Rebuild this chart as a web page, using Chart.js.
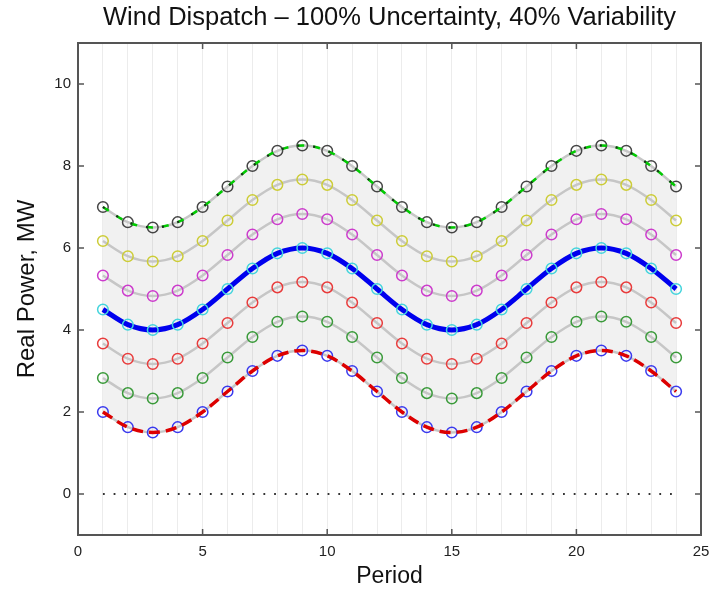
<!DOCTYPE html>
<html>
<head>
<meta charset="utf-8">
<script src="https://cdn.jsdelivr.net/npm/chart.js@4.4.1/dist/chart.umd.min.js"></script>
<style>
  html, body { margin: 0; padding: 0; background: #fff; }
  #wrap { width: 727px; height: 593px; }
</style>
</head>
<body>
<div id="wrap"><canvas id="chart" width="727" height="593"></canvas></div>
<script>
// dados
const periods = [1,2,3,4,5,6,7,8,9,10,11,12,13,14,15,16,17,18,19,20,21,22,23,24];
const upper   = [7.0,6.63,6.5,6.63,7.0,7.5,8.0,8.37,8.5,8.37,8.0,7.5,7.0,6.63,6.5,6.63,7.0,7.5,8.0,8.37,8.5,8.37,8.0,7.5];
const yellow  = [6.17,5.8,5.67,5.8,6.17,6.67,7.17,7.54,7.67,7.54,7.17,6.67,6.17,5.8,5.67,5.8,6.17,6.67,7.17,7.54,7.67,7.54,7.17,6.67];
const magenta = [5.33,4.96,4.83,4.96,5.33,5.83,6.33,6.7,6.83,6.7,6.33,5.83,5.33,4.96,4.83,4.96,5.33,5.83,6.33,6.7,6.83,6.7,6.33,5.83];
const forecast= [4.5,4.13,4.0,4.13,4.5,5.0,5.5,5.87,6.0,5.87,5.5,5.0,4.5,4.13,4.0,4.13,4.5,5.0,5.5,5.87,6.0,5.87,5.5,5.0];
const red     = [3.67,3.3,3.17,3.3,3.67,4.17,4.67,5.04,5.17,5.04,4.67,4.17,3.67,3.3,3.17,3.3,3.67,4.17,4.67,5.04,5.17,5.04,4.67,4.17];
const green   = [2.83,2.46,2.33,2.46,2.83,3.33,3.83,4.2,4.33,4.2,3.83,3.33,2.83,2.46,2.33,2.46,2.83,3.33,3.83,4.2,4.33,4.2,3.83,3.33];
const lower   = [2.0,1.63,1.5,1.63,2.0,2.5,3.0,3.37,3.5,3.37,3.0,2.5,2.0,1.63,1.5,1.63,2.0,2.5,3.0,3.37,3.5,3.37,3.0,2.5];
const zeroLine = [0, 0];
const zeroPeriods = [1, 24];
const xTickLabels = [0, 5, 10, 15, 20, 25];
const yTickLabels = [0, 2, 4, 6, 8, 10];

const FONT = "'Liberation Sans', Helvetica, Arial, sans-serif";
const AXIS = '#555';

function pts(xs, ys) {
    return xs.map((x, i) => ({ x: x, y: ys[i] }));
}

function grayCurve(vals, pointColor, extra) {
    return Object.assign({
        data: pts(periods, vals),
        borderColor: '#c6c6c6',
        borderWidth: 2.5,
        pointRadius: 5.3,
        pointBorderWidth: 1.5,
        pointBorderColor: pointColor,
        pointBackgroundColor: 'rgba(0,0,0,0)',
        cubicInterpolationMode: 'monotone',
        fill: false
    }, extra || {});
}

function overlay(vals, color, width, dash, order) {
    return {
        data: pts(periods, vals),
        borderColor: color,
        borderWidth: width,
        borderDash: dash,
        pointRadius: 0,
        cubicInterpolationMode: 'monotone',
        fill: false,
        order: order
    };
}

const datasets = [
    grayCurve(lower, '#3a3aee', { order: 9 }),                       // 0
    grayCurve(upper, '#454545', { order: 9, fill: 0, backgroundColor: 'rgba(0,0,0,0.055)' }), // 1
    grayCurve(yellow, '#cccc38', { order: 9 }),
    grayCurve(magenta, '#cc3ccc', { order: 9 }),
    grayCurve(red, '#e83c3c', { order: 9 }),
    grayCurve(green, '#3a9a3a', { order: 9 }),
    {
        data: pts(zeroPeriods, zeroLine),
        borderColor: '#333',
        borderWidth: 1.8,
        borderDash: [1.8, 8.9],
        pointRadius: 0,
        fill: false,
        order: 10
    },
    overlay(upper, '#00cc00', 2.5, [7, 9], 5),
    overlay(upper, '#222', 2, [2, 14], 4),
    overlay(lower, '#dd0000', 3.5, [11, 6], 4),
    grayCurve(forecast, '#44d4dc', { order: 1, borderColor: '#0000ee', borderWidth: 5 })
];

// caixa estilo MATLAB com ticks para dentro
const boxPlugin = {
    id: 'box',
    afterDatasetsDraw(chart) {
        const { ctx, chartArea: a, scales } = chart;
        ctx.save();
        ctx.strokeStyle = AXIS;
        ctx.lineWidth = 1.5;
        xTickLabels.forEach(v => {
            const px = scales.x.getPixelForValue(v);
            ctx.beginPath();
            ctx.moveTo(px, a.bottom); ctx.lineTo(px, a.bottom - 6);
            ctx.moveTo(px, a.top); ctx.lineTo(px, a.top + 6);
            ctx.stroke();
        });
        yTickLabels.forEach(v => {
            const py = scales.y.getPixelForValue(v);
            ctx.beginPath();
            ctx.moveTo(a.left, py); ctx.lineTo(a.left + 6, py);
            ctx.moveTo(a.right, py); ctx.lineTo(a.right - 6, py);
            ctx.stroke();
        });
        ctx.lineWidth = 2;
        ctx.strokeRect(a.left, a.top, a.right - a.left, a.bottom - a.top);
        ctx.restore();
    }
};

new Chart(document.getElementById('chart').getContext('2d'), {
    type: 'line',
    data: { datasets: datasets },
    options: {
        responsive: false,
        animation: false,
        layout: { padding: { left: 0, right: 26, top: 0, bottom: 0 } },
        plugins: {
            legend: { display: false },
            tooltip: { enabled: false },
            filler: { drawTime: 'beforeDatasetsDraw' },
            title: {
                display: true,
                fullSize: false,
                text: 'Wind Dispatch \u2013 100% Uncertainty, 40% Variability',
                color: '#111',
                font: { family: FONT, size: 25.5, weight: 'normal' },
                padding: { top: 3, bottom: 9.4 }
            }
        },
        scales: {
            x: {
                type: 'linear',
                min: 0,
                max: 25,
                afterBuildTicks: s => { s.ticks = Array.from({ length: 26 }, (_, i) => ({ value: i })); },
                afterFit: s => { s.height = 58; },
                ticks: {
                    autoSkip: false,
                    maxRotation: 0,
                    padding: 8,
                    color: '#222',
                    font: { family: FONT, size: 15 },
                    callback: v => xTickLabels.includes(v) ? String(v) : ''
                },
                grid: {
                    drawTicks: false,
                    color: ctx => (ctx.tick && (ctx.tick.value === 0 || ctx.tick.value === 25)) ? 'rgba(0,0,0,0)' : '#ececec',
                    lineWidth: 1
                },
                border: { display: false },
                title: {
                    display: true,
                    text: 'Period',
                    color: '#111',
                    font: { family: FONT, size: 23 },
                    padding: { top: 0, bottom: 2.2 }
                }
            },
            y: {
                type: 'linear',
                min: -1,
                max: 11,
                afterBuildTicks: s => { s.ticks = yTickLabels.map(v => ({ value: v })); },
                afterFit: s => { s.width = 78; },
                ticks: {
                    padding: 7,
                    color: '#222',
                    font: { family: FONT, size: 15 }
                },
                grid: { display: false, drawTicks: false },
                border: { display: false },
                title: {
                    display: true,
                    text: 'Real Power, MW',
                    color: '#111',
                    font: { family: FONT, size: 24 },
                    padding: { top: 12.6, bottom: 0 }
                }
            }
        }
    },
    plugins: [boxPlugin]
});
</script>
</body>
</html>
